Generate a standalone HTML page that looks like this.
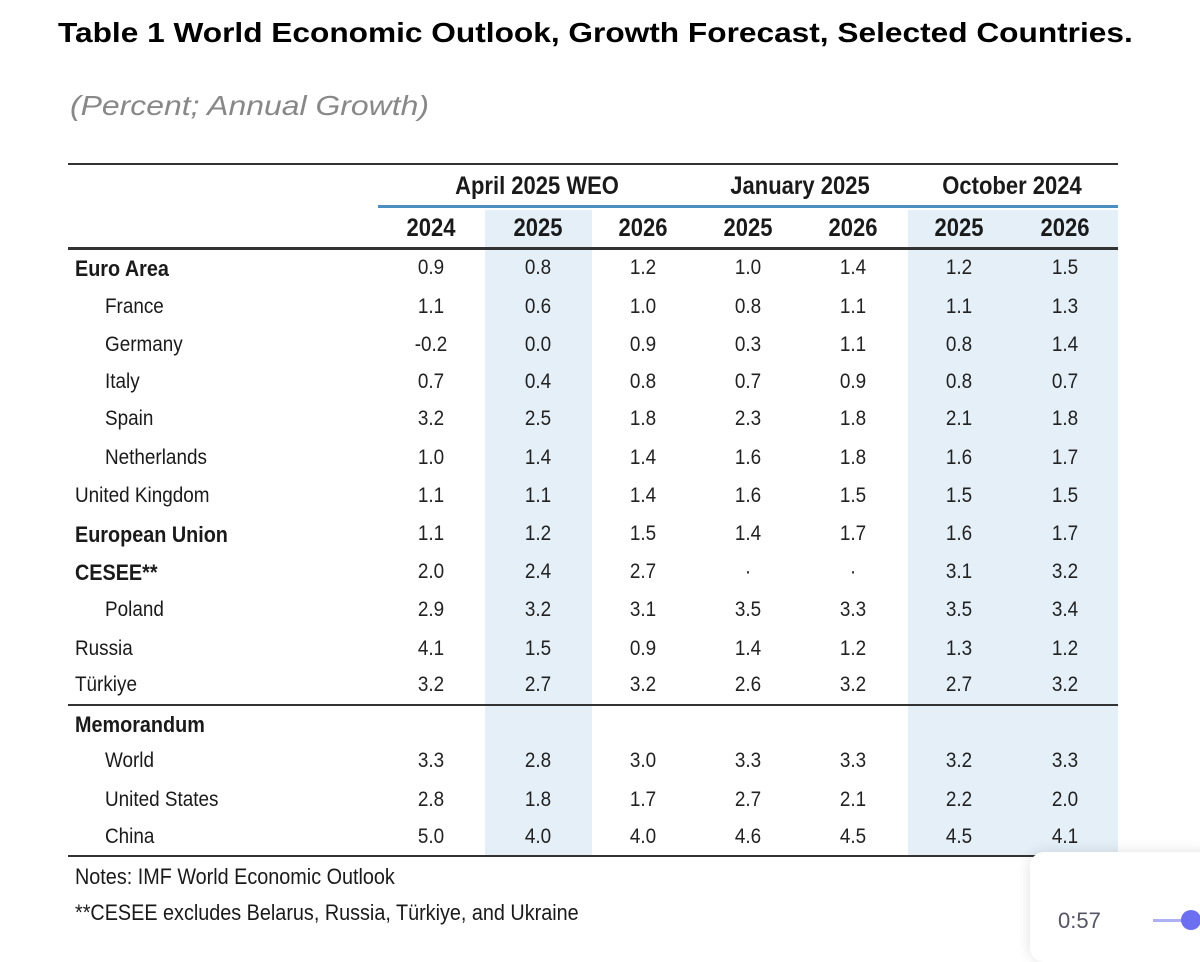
<!DOCTYPE html>
<html><head><meta charset="utf-8"><style>
body{margin:0;width:1200px;height:942px;background:#fff;position:relative;overflow:hidden;font-family:"Liberation Sans",sans-serif;color:#1a1a1a}
.a{position:absolute;white-space:nowrap}
.shade{position:absolute;background:#e4eff8}
.rule{position:absolute;background:#333}
.c{position:absolute;transform:translateX(-50%) scaleX(0.9);font-size:21px;color:#222}
.l{position:absolute;font-size:21px;transform-origin:left;transform:scaleX(0.9)}
.h{position:absolute;transform:translateX(-50%) scaleX(0.88);font-size:25px;font-weight:bold}
</style></head><body>
<div class="a" style="left:58px;top:17px;font-size:28px;font-weight:bold;color:#000;transform:scaleX(1.13);transform-origin:left">Table 1 World Economic Outlook, Growth Forecast, Selected Countries.</div>
<div class="a" style="left:70px;top:90px;font-size:28px;font-style:italic;color:#888;transform:scaleX(1.14);transform-origin:left">(Percent; Annual Growth)</div>
<div class="shade" style="left:485px;top:210px;width:107px;height:646px"></div>
<div class="shade" style="left:908px;top:210px;width:210px;height:646px"></div>
<div class="rule" style="left:68px;top:163px;width:1050px;height:2px"></div>
<div class="rule" style="left:378px;top:205px;width:740px;height:3px;background:#4a8fc0"></div>
<div class="rule" style="left:68px;top:247px;width:1050px;height:3px"></div>
<div class="rule" style="left:68px;top:704px;width:1050px;height:2px"></div>
<div class="rule" style="left:68px;top:855px;width:1050px;height:2px"></div>
<div class="h" style="left:537px;top:172px">April 2025 WEO</div>
<div class="h" style="left:800px;top:172px">January 2025</div>
<div class="h" style="left:1012px;top:172px">October 2024</div>
<div id="t"></div>
<div class="a" style="left:75px;top:864px;font-size:22px;transform:scaleX(0.9);transform-origin:left">Notes: IMF World Economic Outlook</div>
<div class="a" style="left:75px;top:900px;font-size:22px;transform:scaleX(0.9);transform-origin:left">**CESEE excludes Belarus, Russia, Türkiye, and Ukraine</div>
<div class="a" style="left:1030px;top:852px;width:190px;height:110px;background:#fff;border-radius:14px;box-shadow:0 0 14px rgba(0,0,0,0.12)"></div>
<div class="a" style="left:1058px;top:908px;font-size:22px;color:#556">0:57</div>
<div class="a" style="left:1153px;top:919px;width:40px;height:3px;background:#aeb0f4"></div>
<div class="a" style="left:1181px;top:910px;width:20px;height:20px;border-radius:50%;background:#6b6ff0"></div>
<script>
const years=["2024","2025","2026","2025","2026","2025","2026"];
const colX=[431,538,643,748,853,959,1065];
const labels=["Euro Area","France","Germany","Italy","Spain","Netherlands","United Kingdom","European Union","CESEE**","Poland","Russia","Türkiye","Memorandum","World","United States","China"];
const bold=[1,0,0,0,0,0,0,1,1,0,0,0,1,0,0,0];
const indent=[0,1,1,1,1,1,0,0,0,1,0,0,0,1,1,1];
const values=[
["0.9","0.8","1.2","1.0","1.4","1.2","1.5"],
["1.1","0.6","1.0","0.8","1.1","1.1","1.3"],
["-0.2","0.0","0.9","0.3","1.1","0.8","1.4"],
["0.7","0.4","0.8","0.7","0.9","0.8","0.7"],
["3.2","2.5","1.8","2.3","1.8","2.1","1.8"],
["1.0","1.4","1.4","1.6","1.8","1.6","1.7"],
["1.1","1.1","1.4","1.6","1.5","1.5","1.5"],
["1.1","1.2","1.5","1.4","1.7","1.6","1.7"],
["2.0","2.4","2.7","·","·","3.1","3.2"],
["2.9","3.2","3.1","3.5","3.3","3.5","3.4"],
["4.1","1.5","0.9","1.4","1.2","1.3","1.2"],
["3.2","2.7","3.2","2.6","3.2","2.7","3.2"],
["","","","","","",""],
["3.3","2.8","3.0","3.3","3.3","3.2","3.3"],
["2.8","1.8","1.7","2.7","2.1","2.2","2.0"],
["5.0","4.0","4.0","4.6","4.5","4.5","4.1"]];
const rowY=[269,308,346,383,420,459,497,535,573,611,650,686,725,762,801,838];
const t=document.getElementById('t');
years.forEach((y,i)=>{const d=document.createElement('div');d.className='h';


d.style.left=colX[i]+'px';d.style.top='214px';d.textContent=y;t.appendChild(d);});
labels.forEach((lb,r)=>{const d=document.createElement('div');d.className='l';


d.style.left=(indent[r]?105:75)+'px';d.style.top=(rowY[r]-13)+'px';
if(bold[r]){d.style.fontWeight='bold';d.style.fontSize='22px';}
d.textContent=lb;t.appendChild(d);
values[r].forEach((v,i)=>{if(!v)return;const c=document.createElement('div');c.className='c';


c.style.left=colX[i]+'px';c.style.top=(rowY[r]-13)+'px';c.textContent=v;t.appendChild(c);});});
</script>
</body></html>
